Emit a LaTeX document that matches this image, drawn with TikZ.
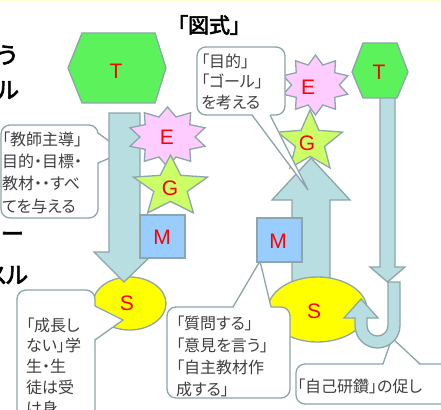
\documentclass[tikz,border=0pt]{standalone}
\usepackage{fontspec}
\setmainfont{Liberation Sans}
\newfontfamily\cjk[RawFeature={+palt}]{Noto Sans CJK JP}
\newfontfamily\cjkb[RawFeature={+palt},FakeBold=3]{Noto Sans CJK JP}
\definecolor{edgec}{HTML}{8CA6A9}
\definecolor{arrowc}{HTML}{B9DEE2}
\definecolor{hexc}{HTML}{5CF25C}
\definecolor{epink}{HTML}{FFCCFF}
\definecolor{gcol}{HTML}{CCFF66}
\definecolor{mcol}{HTML}{99CCFF}
\definecolor{scol}{HTML}{FFFF00}
\definecolor{cborder}{HTML}{8DA5A8}
\definecolor{txtc}{HTML}{3F3F3F}
\definecolor{topstrip}{HTML}{FFFFD0}
\tikzset{
  shapeline/.style={draw=edgec, line width=1.3pt, line join=miter},
  arrowbody/.style={shapeline, fill=arrowc},
  hexa/.style={shapeline, fill=hexc},
  eshape/.style={shapeline, fill=epink},
  gshape/.style={shapeline, fill=gcol},
  mshape/.style={shapeline, fill=mcol},
  sshape/.style={shapeline, fill=scol},
  letter/.style={text=red, font=\fontsize{21}{21}\selectfont, inner sep=0pt},
  cbox/.style={draw=cborder, line width=1.3pt, fill=white, rounded corners=9pt},
  cwedge/.style={draw=cborder, line width=1.3pt, line join=miter},
  ctext/.style={anchor=north west, inner sep=0pt, align=left, text=txtc},
  frag/.style={anchor=east, inner sep=0pt, text=black, font=\cjkb\fontsize{23}{23}\selectfont},
}
\begin{document}
\begin{tikzpicture}[x=1pt,y=-1pt]
\useasboundingbox (0,0) rectangle (441,409);
\fill[white] (0,0) rectangle (441,409);
\fill[topstrip] (0,0) rectangle (441,2);

% title and cut-off fragments
\node[inner sep=0pt, font=\cjkb\fontsize{21}{21}\selectfont] (title) at (209,25) {「図式」};
\node[frag] (f1) at (17,55) {う};
\node[frag] (f2) at (19,90) {ル};
\node[frag] (f3) at (24,237) {ー};
\node[frag] (f4) at (28,275) {スル};

% ---------- left group ----------
\draw[cbox] (1,125) rectangle (98,218);
\fill[white] (96.5,133) -- (124,152) -- (96.5,163) -- cycle;
\draw[cwedge] (98,133) -- (124,152) -- (98,163);
\node[ctext, font=\cjk\fontsize{16}{22.3}\selectfont] (c1) at (2,131.5) {「教師主導」\\目的・目標・\\教材・・すべ\\てを与える};

\draw[sshape] (129.5,303.5) ellipse [x radius=36.5, y radius=26.5];
\draw[cbox] (17,290) rectangle (95,440);
\fill[white] (93.5,306) -- (123,320) -- (93.5,340) -- cycle;
\draw[cwedge] (95,306) -- (123,320) -- (95,340);
\node[ctext, font=\cjk\fontsize{16}{20.7}\selectfont] (c2) at (26,317.5) {「成長し\\ない」学\\生・生\\徒は受\\け身};

\draw[arrowbody] (109,113) -- (140,113) -- (140,252) -- (155,252) -- (124,282) -- (94,252) -- (109,252) -- cycle;
\draw[hexa] (68,68) -- (82,33) -- (155,33) -- (166,68) -- (155,103) -- (82,103) -- cycle;
\draw[eshape] plot[samples at={0,1,...,19}, variable=\k] ({167.5 + 39.4*(isodd(\k) ? 0.7 : 1)*cos(\k*18-90)}, {137 + 30*(isodd(\k) ? 0.7 : 1)*sin(\k*18-90)}) -- cycle;
\draw[gshape] plot[samples at={0,1,...,9}, variable=\k] ({170.5 + 39*(isodd(\k) ? 0.45 : 1)*cos(\k*36-90)}, {187 + 32*(isodd(\k) ? 0.45 : 1)*sin(\k*36-90)}) -- cycle;
\draw[mshape] (140,215) rectangle (185,258);

\node[letter] (T1) at (116,71) {T};
\node[letter] (E1) at (167,137) {E};
\node[letter] (G1) at (170,188) {G};
\node[letter] (M1) at (162,237) {M};
\node[letter] (S1) at (127,303) {S};

% ---------- middle group ----------
\draw[arrowbody] (292,290) -- (292,200) -- (272,200) -- (311,158) -- (350,200) -- (330,200) -- (330,290) -- cycle;
\draw[sshape] (317.5,309.5) ellipse [x radius=49.5, y radius=32.5];
\draw[cbox] (167,307) rectangle (290,398);
\fill[white] (233,308.5) -- (260,261) -- (271,308.5) -- cycle;
\draw[cwedge] (233,307) -- (260,261) -- (271,307);
\node[ctext, font=\cjk\fontsize{16}{22}\selectfont] (c3) at (176,315.5) {「質問する」\\「意見を言う」\\「自主教材作\\成する」};
\draw[mshape] (257,218) rectangle (302,262);
\draw[eshape] plot[samples at={0,1,...,19}, variable=\k] ({315.5 + 34*(isodd(\k) ? 0.7 : 1)*cos(\k*18-90)}, {85 + 30*(isodd(\k) ? 0.7 : 1)*sin(\k*18-90)}) -- cycle;
\draw[gshape] plot[samples at={0,1,...,9}, variable=\k] ({310 + 34*(isodd(\k) ? 0.45 : 1)*cos(\k*36-90)}, {142 + 32*(isodd(\k) ? 0.45 : 1)*sin(\k*36-90)}) -- cycle;
\draw[cbox] (197,47) rectangle (285,115);
\fill[white] (252,113.5) -- (308,190) -- (270,113.5) -- cycle;
\draw[cwedge] (252,115) -- (308,190) -- (270,115);
\node[ctext, font=\cjk\fontsize{16}{20.5}\selectfont] (c4) at (201,53.5) {「目的」\\「ゴール」\\を考える};

\node[letter] (E2) at (308,87) {E};
\node[letter] (G2) at (307,143) {G};
\node[letter] (M2) at (278,241) {M};
\node[letter] (S2) at (314,311) {S};

% ---------- right group ----------
\draw[arrowbody] (380,96) -- (395,96) -- (395,267) -- (405,267) -- (387.5,282) -- (370,267) -- (380,267) -- cycle;
\draw[hexa] (352,72) -- (363,43) -- (397,43) -- (408,72) -- (397,98) -- (363,98) -- cycle;
\draw[cbox] (296,364) rectangle (480,404);
\fill[white] (383,365.5) -- (392,338) -- (420,365.5) -- cycle;
\draw[cwedge] (383,364) -- (392,338) -- (420,364);
\node[ctext, font=\cjk\fontsize{16}{20}\selectfont] (c5) at (297,378.5) {「自己研鑽」の促し};
\draw[arrowbody] (400,282) -- (400,325.5) arc[start angle=0, end angle=180, radius=22.5] -- (355,318) -- (344,318) -- (361,299) -- (378,318) -- (367,318) -- (367,325.5) arc[start angle=180, end angle=0, radius=10.5] -- (388,282) -- cycle;
\node[letter] (T2) at (379,72) {T};
\end{tikzpicture}
\end{document}
